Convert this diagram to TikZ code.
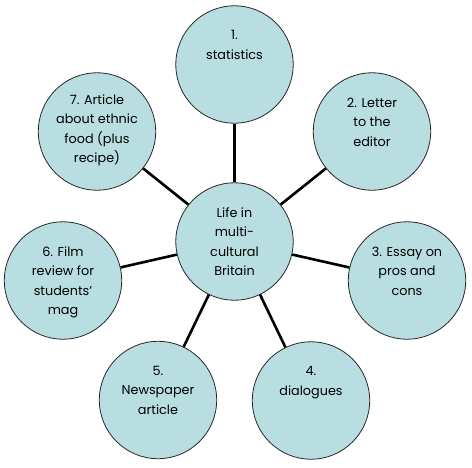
\documentclass[tikz,border=0pt]{standalone}
\usepackage{fontspec}
\setmainfont{Poppins}
\definecolor{bubble}{RGB}{184,222,225}
\definecolor{rim}{RGB}{40,40,40}
\begin{document}
\begin{tikzpicture}[x=1pt,y=-1pt,
  bub/.style={circle,draw=rim,line width=0.8pt,fill=bubble,minimum size=117.4pt,inner sep=0pt},
  lbl/.style={anchor=north,align=center,inner sep=0pt,font=\fontsize{12.8}{19.5}\selectfont},
  spoke/.style={line width=2.6pt,black}]
\useasboundingbox (0,0) rectangle (472,467);
\node[bub] (c0) at (234.5,241.5) {};
\node[bub] (c1) at (234.5,64.5) {};
\node[bub] (c2) at (372,131.5) {};
\node[bub] (c3) at (407,280.5) {};
\node[bub] (c4) at (311,400.5) {};
\node[bub] (c5) at (158,400) {};
\node[bub] (c6) at (63,280.5) {};
\node[bub] (c7) at (97,131.5) {};
\foreach \i in {1,...,7} \draw[spoke] (c0) -- (c\i);
\node[align=center,inner sep=0pt,font=\fontsize{12.8}{19.5}\selectfont] (t0) at (c0) {Life in\\multi-\\cultural\\Britain};
\node[lbl] (t1) at ([yshift=-25pt]c1.north) {1.\\statistics};
\node[lbl] (t2) at ([yshift=-25pt]c2.north) {2. Letter\\to the\\editor};
\node[lbl] (t3) at ([yshift=-25pt]c3.north) {3. Essay on\\pros and\\cons};
\node[lbl] (t4) at ([yshift=-25pt]c4.north) {4.\\dialogues};
\node[lbl] (t5) at ([yshift=-25pt]c5.north) {5.\\Newspaper\\article};
\node[lbl] (t6) at ([yshift=-25pt]c6.north) {6. Film\\review for\\students\symbol{39}\\mag};
\node[lbl] (t7) at ([yshift=-22pt]c7.north) {7. Article\\about ethnic\\food (plus\\recipe)};
\end{tikzpicture}
\end{document}
